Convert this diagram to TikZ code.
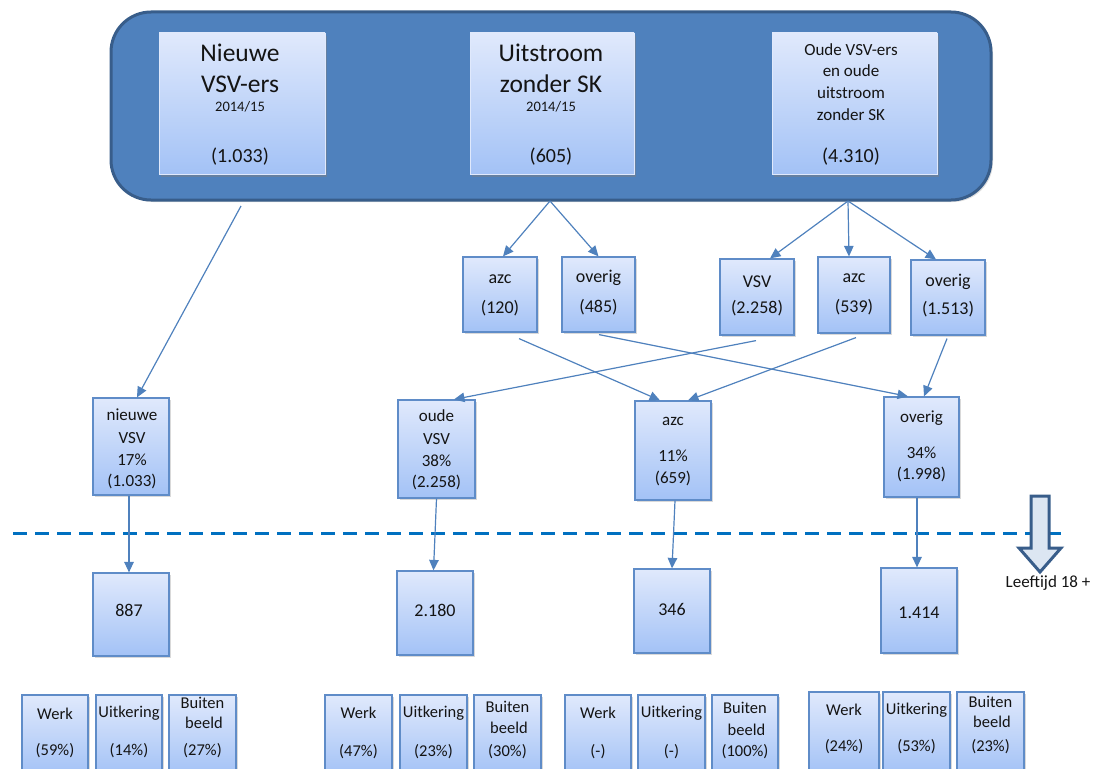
\documentclass[tikz,border=0pt]{standalone}
\usepackage{fontspec}
\setmainfont{Carlito}
\usetikzlibrary{arrows.meta,shadows}
\definecolor{bigfill}{RGB}{79,129,189}
\definecolor{bigdraw}{RGB}{56,93,138}
\definecolor{boxtop}{RGB}{224,233,252}
\definecolor{boxbot}{RGB}{163,194,246}
\definecolor{boxline}{RGB}{95,140,200}
\definecolor{arrcol}{RGB}{79,129,189}
\definecolor{dashcol}{RGB}{0,112,192}
\definecolor{bigarrfill}{RGB}{220,230,242}
\definecolor{txtcol}{RGB}{20,20,20}
\newcommand\myfs[1]{\fontsize{#1}{#1}\selectfont}
\begin{document}
\begin{tikzpicture}[x=1pt,y=-1pt,
 box/.style={draw=boxline,line width=1.2pt,top color=boxtop,bottom color=boxbot,inner sep=0pt,
   drop shadow={shadow xshift=1.5pt,shadow yshift=-2pt,opacity=0.3}},
 topbox/.style={draw=boxtop,line width=0.6pt,top color=boxtop,bottom color=boxbot,inner sep=0pt,
   drop shadow={shadow xshift=2pt,shadow yshift=-3pt,opacity=0.45}},
 bigbox/.style={draw=bigdraw,line width=3pt,fill=bigfill,rounded corners=40pt,inner sep=0pt,
   drop shadow={shadow xshift=2pt,shadow yshift=-2pt,opacity=0.25}},
 txt/.style={inner sep=0pt,text=txtcol},
 t25/.style={txt,font=\myfs{25.5}},
 t20/.style={txt,font=\myfs{20}},
 t17/.style={txt,font=\myfs{17}},
 t14/.style={txt,font=\myfs{14.5}},
 t18/.style={txt,font=\myfs{18}},
 tsm/.style={txt,font=\myfs{16.5}},
 arr/.style={draw=arrcol,line width=1.2pt,-{Triangle[length=10.5pt,width=9.5pt]}},
 dashln/.style={draw=dashcol,line width=3pt,dash pattern=on 14pt off 8pt},
 bigarrow/.style={draw=bigdraw,fill=bigarrfill,line width=3pt,line join=miter},
]
\useasboundingbox (0,0) rectangle (1099,768);

% ---------- top container ----------
\node[bigbox,minimum width=880pt,minimum height=188pt] (big) at (551,106) {};
\node[topbox,minimum width=166pt,minimum height=141pt] (top1) at (242,103.5) {};
\node[topbox,minimum width=164pt,minimum height=141pt] (top2) at (552,103.5) {};
\node[topbox,minimum width=165pt,minimum height=141pt] (top3) at (854.5,103.5) {};

\node[t25] (t1a) at (240,53) {Nieuwe};
\node[t25] (t1b) at (240,84) {VSV-ers};
\node[t14] (t1c) at (240,107) {2014/15};
\node[t20] (t1d) at (240,157) {(1.033)};

\node[t25] (t2a) at (551,53) {Uitstroom};
\node[t25] (t2b) at (551,84) {zonder SK};
\node[t14] (t2c) at (551,107) {2014/15};
\node[t20] (t2d) at (551,157) {(605)};

\node[t17] (t3a) at (851,50) {Oude VSV-ers};
\node[t17] (t3b) at (851,71) {en oude};
\node[t17] (t3c) at (851,93) {uitstroom};
\node[t17] (t3d) at (851,115) {zonder SK};
\node[t20] (t3e) at (851,157) {(4.310)};

\coordinate (s1) at (241,206);
\coordinate (s2) at (550,201);
\coordinate (s3) at (848,201);

% ---------- second row ----------
\node[box,minimum width=74pt,minimum height=75pt] (az1) at (500,294.5) {};
\node[box,minimum width=73pt,minimum height=75pt] (ov1) at (598.5,294.5) {};
\node[box,minimum width=74pt,minimum height=76pt] (vsv) at (757,297) {};
\node[box,minimum width=72pt,minimum height=76pt] (az2) at (854,295) {};
\node[box,minimum width=74pt,minimum height=75pt] (ov2) at (948,297.5) {};

\node[t18] (az1a) at (500,279) {azc};
\node[t18] (az1b) at (500,308) {(120)};
\node[t18] (ov1a) at (598.5,278) {overig};
\node[t18] (ov1b) at (598.5,307) {(485)};
\node[t18] (vsva) at (757,282) {VSV};
\node[t18] (vsvb) at (757,308) {(2.258)};
\node[t18] (az2a) at (854,278) {azc};
\node[t18] (az2b) at (854,307) {(539)};
\node[t18] (ov2a) at (948,282) {overig};
\node[t18] (ov2b) at (948,309) {(1.513)};

% ---------- third row ----------
\node[box,minimum width=76pt,minimum height=97pt] (nv) at (131,446.5) {};
\node[box,minimum width=77pt,minimum height=98pt] (oude) at (436.5,449) {};
\node[box,minimum width=76pt,minimum height=99pt] (azc3) at (673,450.5) {};
\node[box,minimum width=75pt,minimum height=100pt] (ov3) at (921.5,447) {};

\node[t17] (nva) at (132,415) {nieuwe};
\node[t17] (nvb) at (132,438) {VSV};
\node[t17] (nvc) at (132,460) {17\%};
\node[t17] (nvd) at (132,481) {(1.033)};
\node[t17] (oua) at (436.5,416) {oude};
\node[t17] (oub) at (436.5,439) {VSV};
\node[t17] (ouc) at (436.5,461) {38\%};
\node[t17] (oud) at (436.5,482) {(2.258)};
\node[t17] (aza) at (673,421) {azc};
\node[t17] (azb) at (673,456) {11\%};
\node[t17] (azc) at (673,478) {(659)};
\node[t17] (ova) at (921.5,418) {overig};
\node[t17] (ovb) at (921.5,453) {34\%};
\node[t17] (ovc) at (921.5,474) {(1.998)};

% ---------- fourth row ----------
\node[box,minimum width=76pt,minimum height=83pt] (n887) at (131,614.5) {};
\node[box,minimum width=76pt,minimum height=84pt] (n2180) at (435,613) {};
\node[box,minimum width=76pt,minimum height=84pt] (n346) at (672,611) {};
\node[box,minimum width=76pt,minimum height=85pt] (n1414) at (919,610.5) {};
\node[t18] (l887) at (129,610) {887};
\node[t18] (l2180) at (435,610) {2.180};
\node[t18] (l346) at (672,609) {346};
\node[t18] (l1414) at (919,613) {1.414};

% ---------- bottom row ----------
\node[box,minimum width=66pt,minimum height=80pt] (g1w) at (55,735) {};
\node[box,minimum width=66pt,minimum height=80pt] (g1u) at (129,735) {};
\node[box,minimum width=67pt,minimum height=80pt] (g1b) at (202.5,735) {};
\node[box,minimum width=67pt,minimum height=80pt] (g2w) at (358.5,735) {};
\node[box,minimum width=67pt,minimum height=80pt] (g2u) at (433.5,735) {};
\node[box,minimum width=67pt,minimum height=80pt] (g2b) at (507.5,735) {};
\node[box,minimum width=66pt,minimum height=80pt] (g3w) at (598,735) {};
\node[box,minimum width=67pt,minimum height=80pt] (g3u) at (671.5,735) {};
\node[box,minimum width=66pt,minimum height=80pt] (g3b) at (745,735) {};
\node[box,minimum width=70pt,minimum height=82pt] (g4w) at (844,733) {};
\node[box,minimum width=67pt,minimum height=82pt] (g4u) at (916.5,733) {};
\node[box,minimum width=67pt,minimum height=82pt] (g4b) at (990.5,733) {};

\node[tsm] (g1wa) at (55,714) {Werk};
\node[tsm] (g1wb) at (55,751) {(59\%)};
\node[tsm] (g1ua) at (129,713) {Uitkering};
\node[tsm] (g1ub) at (129,751) {(14\%)};
\node[tsm] (g1ba) at (202.5,703) {Buiten};
\node[tsm] (g1bb) at (204,723) {beeld};
\node[tsm] (g1bc) at (202.5,751) {(27\%)};

\node[tsm] (g2wa) at (358.5,713) {Werk};
\node[tsm] (g2wb) at (358.5,752) {(47\%)};
\node[tsm] (g2ua) at (433.5,713) {Uitkering};
\node[tsm] (g2ub) at (433.5,752) {(23\%)};
\node[tsm] (g2ba) at (507.5,707) {Buiten};
\node[tsm] (g2bb) at (509,728) {beeld};
\node[tsm] (g2bc) at (507.5,752) {(30\%)};

\node[tsm] (g3wa) at (598,713) {Werk};
\node[tsm] (g3wb) at (598,752) {(-)};
\node[tsm] (g3ua) at (671.5,713) {Uitkering};
\node[tsm] (g3ub) at (671.5,752) {(-)};
\node[tsm] (g3ba) at (745,708) {Buiten};
\node[tsm] (g3bb) at (746.5,730) {beeld};
\node[tsm] (g3bc) at (745,752) {(100\%)};

\node[tsm] (g4wa) at (844,710) {Werk};
\node[tsm] (g4wb) at (844,747) {(24\%)};
\node[tsm] (g4ua) at (916.5,710) {Uitkering};
\node[tsm] (g4ub) at (916.5,747) {(53\%)};
\node[tsm] (g4ba) at (990.5,702) {Buiten};
\node[tsm] (g4bb) at (992,722) {beeld};
\node[tsm] (g4bc) at (990.5,747) {(23\%)};

% ---------- dashed age line and arrow ----------
\coordinate (dl) at (13,533);
\coordinate (dr) at (1063,533);
\draw[dashln] (dl) -- (dr);
\draw[bigarrow] (1031,496) -- (1049,496) -- (1049,548) -- (1061,548) -- (1040,572)
  -- (1019,548) -- (1031,548) -- cycle;
\node[t17] (age) at (1048,583) {Leeftijd 18 +};

% ---------- connectors ----------
\draw[arr] (s2) -- ([xshift=3pt]az1.north);
\draw[arr] (s2) -- (ov1.north);
\draw[arr] (s3) -- ([xshift=13pt]vsv.north);
\draw[arr] (s3) -- ([xshift=-5pt]az2.north);
\draw[arr] (s3) -- ([xshift=-12pt]ov2.north);

\draw[arr] (s1) -- ([xshift=6pt]nv.north);
\draw[arr] ([xshift=19pt,yshift=-6pt]az1.south) -- ([xshift=-13pt]azc3.north);
\draw[arr] ([xshift=0.5pt,yshift=-2pt]ov1.south) -- ([xshift=-13.5pt]ov3.north);
\draw[arr] ([xshift=-1pt,yshift=-5pt]vsv.south) -- ([xshift=17.5pt]oude.north);
\draw[arr] ([xshift=2pt,yshift=-4pt]az2.south) -- ([xshift=15pt]azc3.north);
\draw[arr] ([xshift=-1pt,yshift=-3pt]ov2.south) -- ([xshift=2.5pt]ov3.north);

\draw[arr] ([xshift=-2pt]nv.south) -- ([xshift=-2pt]n887.north);
\draw[arr] (oude.south) -- ([xshift=-1.5pt]n2180.north);
\draw[arr] ([xshift=2pt]azc3.south) -- (n346.north);
\draw[arr] ([xshift=-4.5pt]ov3.south) -- ([xshift=-2pt]n1414.north);
\end{tikzpicture}
\end{document}
